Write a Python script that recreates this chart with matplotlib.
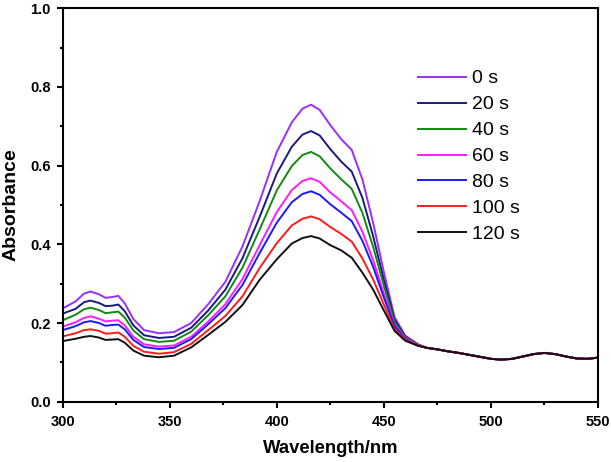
import matplotlib
matplotlib.use('Agg')
import matplotlib.pyplot as plt
from matplotlib.ticker import MultipleLocator

plt.rcParams['font.family'] = ['Liberation Sans', 'DejaVu Sans']

# wavelength grid (nm) for the band region, and the shared flat tail
wl_band = [300, 306, 310, 313, 317, 320, 323, 326, 329, 333, 338, 345, 352, 360,
           368, 376, 384, 392, 400, 407, 412, 416, 420, 425, 430, 435, 440, 445,
           450, 455, 460, 466]
wl_tail = [470, 475, 480, 485, 490, 495, 500, 505, 510, 515, 520, 525, 530,
           535, 540, 545, 550]
abs_tail = [0.137, 0.133, 0.128, 0.124, 0.119, 0.114, 0.109, 0.107, 0.109,
            0.115, 0.121, 0.124, 0.121, 0.115, 0.110, 0.109, 0.112]

abs_0s = [0.237, 0.255, 0.275, 0.280, 0.273, 0.264, 0.266, 0.269, 0.250, 0.210,
          0.182, 0.174, 0.177, 0.200, 0.248, 0.305, 0.395, 0.510, 0.635, 0.710,
          0.745, 0.755, 0.742, 0.703, 0.668, 0.640, 0.565, 0.455, 0.330, 0.215,
          0.168, 0.146]
abs_20s = [0.224, 0.236, 0.253, 0.257, 0.251, 0.243, 0.244, 0.247, 0.230, 0.194,
           0.169, 0.162, 0.165, 0.188, 0.232, 0.285, 0.365, 0.470, 0.580, 0.648,
           0.679, 0.688, 0.677, 0.642, 0.611, 0.585, 0.518, 0.421, 0.310, 0.208,
           0.165, 0.145]
abs_40s = [0.207, 0.221, 0.235, 0.239, 0.233, 0.225, 0.227, 0.229, 0.214, 0.181,
           0.159, 0.152, 0.155, 0.178, 0.220, 0.268, 0.341, 0.438, 0.537, 0.599,
           0.627, 0.635, 0.624, 0.593, 0.566, 0.541, 0.480, 0.394, 0.295, 0.202,
           0.163, 0.145]
abs_60s = [0.191, 0.202, 0.213, 0.217, 0.211, 0.204, 0.206, 0.207, 0.194, 0.165,
           0.146, 0.140, 0.143, 0.165, 0.204, 0.248, 0.312, 0.398, 0.482, 0.538,
           0.561, 0.568, 0.559, 0.532, 0.510, 0.487, 0.432, 0.360, 0.275, 0.195,
           0.161, 0.144]
abs_80s = [0.182, 0.192, 0.202, 0.205, 0.200, 0.193, 0.195, 0.196, 0.184, 0.157,
           0.139, 0.134, 0.137, 0.159, 0.197, 0.238, 0.297, 0.378, 0.455, 0.507,
           0.528, 0.535, 0.526, 0.502, 0.481, 0.459, 0.409, 0.343, 0.265, 0.192,
           0.159, 0.143]
abs_100s = [0.166, 0.174, 0.182, 0.184, 0.180, 0.173, 0.174, 0.176, 0.165, 0.142,
            0.127, 0.122, 0.126, 0.147, 0.182, 0.218, 0.268, 0.340, 0.403, 0.448,
            0.465, 0.471, 0.464, 0.444, 0.427, 0.407, 0.364, 0.311, 0.247, 0.185,
            0.157, 0.143]
abs_120s = [0.154, 0.160, 0.165, 0.167, 0.163, 0.157, 0.158, 0.159, 0.150, 0.130,
            0.117, 0.113, 0.117, 0.138, 0.170, 0.203, 0.246, 0.310, 0.362, 0.402,
            0.416, 0.421, 0.415, 0.398, 0.385, 0.366, 0.328, 0.285, 0.232, 0.180,
            0.155, 0.142]

labels = ['0 s', '20 s', '40 s', '60 s', '80 s', '100 s', '120 s']
series = [abs_0s, abs_20s, abs_40s, abs_60s, abs_80s, abs_100s, abs_120s]
colors = ['#9a2eff', '#1a1a80', '#118a11', '#ff1aff', '#1a1aff', '#ff1a1a', '#111111']

fig = plt.figure(figsize=(6.11, 4.62), dpi=100)
ax = fig.add_axes([0.1026, 0.1305, 0.876, 0.8515])

wl = wl_band + wl_tail
for y, lab, c in zip(series, labels, colors):
    ax.plot(wl, y + abs_tail, color=c, lw=1.4, label=lab)

ax.set_xlim(300, 550)
ax.set_ylim(0, 1.0)
ax.xaxis.set_major_locator(MultipleLocator(50))
ax.xaxis.set_minor_locator(MultipleLocator(25))
ax.yaxis.set_major_locator(MultipleLocator(0.2))
ax.yaxis.set_minor_locator(MultipleLocator(0.1))
ax.tick_params(which='both', direction='out', width=1.5, top=False, right=False)
ax.tick_params(which='major', length=4.5, labelsize=10.5)
ax.tick_params(which='minor', length=2.5)
ax.tick_params(axis='x', which='major', pad=5)
ax.tick_params(axis='y', which='major', pad=4)
for lbl in ax.get_xticklabels() + ax.get_yticklabels():
    lbl.set_fontweight('bold')
for s in ax.spines.values():
    s.set_linewidth(1.5)

ax.set_xlabel('Wavelength/nm', fontsize=13.3, fontweight='bold', labelpad=8)
ax.set_ylabel('Absorbance', fontsize=14, fontweight='bold', labelpad=8)

ax.legend(loc='upper left', bbox_to_anchor=(0.668, 0.870),
          bbox_transform=fig.transFigure, frameon=False, borderpad=0,
          fontsize=14, handlelength=2.5, handletextpad=0.3, labelspacing=0.43)

fig.savefig('out.png', dpi=100)
